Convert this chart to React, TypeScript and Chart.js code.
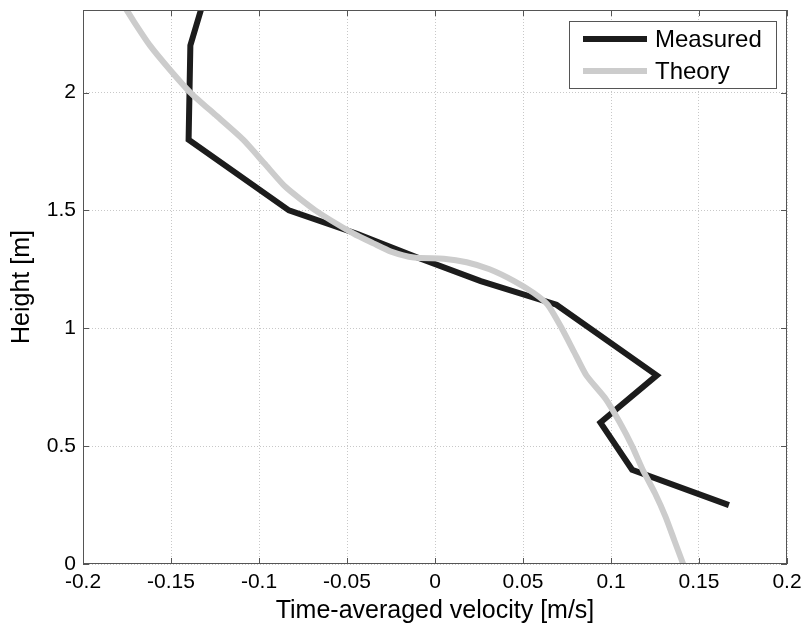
import React, { useEffect, useRef } from "react";
import { Chart, registerables } from "chart.js";

Chart.register(...registerables);

// ---- Data ----
const seriesNames = ["Measured", "Theory"];

const measuredHeight = [2.35, 2.2, 1.8, 1.5, 1.4, 1.3, 1.2, 1.1, 0.8, 0.6, 0.4, 0.25];
const measuredVelocity = [-0.133, -0.139, -0.14, -0.083, -0.044, -0.01, 0.026, 0.069, 0.126, 0.094, 0.112, 0.167];

const theoryHeight = [
  0, 0.1, 0.2, 0.3, 0.4, 0.5, 0.6, 0.7, 0.8, 0.9, 1.0, 1.1, 1.15, 1.2, 1.25, 1.28,
  1.295, 1.3, 1.325, 1.36, 1.4, 1.5, 1.6, 1.7, 1.8, 1.9, 2.0, 2.1, 2.2, 2.3, 2.36,
];
const theoryVelocity = [
  0.141, 0.136, 0.131, 0.125, 0.118, 0.112, 0.105, 0.097, 0.086, 0.079, 0.072, 0.064, 0.056,
  0.045, 0.031, 0.018, 0.005, -0.012, -0.025, -0.035, -0.046, -0.068, -0.085, -0.097, -0.109,
  -0.124, -0.139, -0.151, -0.162, -0.171, -0.176,
];

const xTicks = [-0.2, -0.15, -0.1, -0.05, 0, 0.05, 0.1, 0.15, 0.2];
const yTicks = [0, 0.5, 1, 1.5, 2];
const xTitle = "Time-averaged velocity [m/s]";
const yTitle = "Height [m]";

const FONT = '"Liberation Sans", Arial, Helvetica, sans-serif';
const MEASURED_COLOR = "#1c1c1c";
const THEORY_COLOR = "#cccccc";

const fmt = (v: number) => String(Number(v.toFixed(2)));

const framePlugin = {
  id: "frameAndLegend",
  afterDraw(chart: any) {
    const { ctx, chartArea: a, scales } = chart;
    ctx.save();
    // frame
    ctx.strokeStyle = "#555555";
    ctx.lineWidth = 1;
    ctx.strokeRect(a.left + 0.5, a.top + 0.5, a.right - a.left - 1, a.bottom - a.top - 1);
    // inward ticks
    const L = 6;
    ctx.beginPath();
    scales.x.ticks.forEach((t: any) => {
      const px = Math.round(scales.x.getPixelForValue(t.value)) + 0.5;
      ctx.moveTo(px, a.bottom);
      ctx.lineTo(px, a.bottom - L);
      ctx.moveTo(px, a.top);
      ctx.lineTo(px, a.top + L);
    });
    scales.y.ticks.forEach((t: any) => {
      const py = Math.round(scales.y.getPixelForValue(t.value)) + 0.5;
      ctx.moveTo(a.left, py);
      ctx.lineTo(a.left + L, py);
      ctx.moveTo(a.right, py);
      ctx.lineTo(a.right - L, py);
    });
    ctx.stroke();

    // legend
    const bw = 208;
    const bh = 68;
    const bx = a.right - 10 - bw;
    const by = a.top + 11;
    ctx.fillStyle = "#ffffff";
    ctx.fillRect(bx, by, bw, bh);
    ctx.strokeStyle = "#555555";
    ctx.lineWidth = 1;
    ctx.strokeRect(bx + 0.5, by + 0.5, bw - 1, bh - 1);
    const colors = [MEASURED_COLOR, THEORY_COLOR];
    ctx.font = `24px ${FONT}`;
    ctx.textBaseline = "middle";
    ctx.textAlign = "left";
    seriesNames.forEach((name, i) => {
      const cy = by + 18 + i * 32;
      ctx.strokeStyle = colors[i];
      ctx.lineWidth = 6;
      ctx.beginPath();
      ctx.moveTo(bx + 14, cy);
      ctx.lineTo(bx + 78, cy);
      ctx.stroke();
      ctx.fillStyle = "#000000";
      ctx.fillText(name, bx + 86, cy + 1);
    });
    ctx.restore();
  },
};

export default function App() {
  const ref = useRef<HTMLCanvasElement | null>(null);

  useEffect(() => {
    if (!ref.current) return;
    const chart = new Chart(ref.current, {
      type: "scatter",
      data: {
        datasets: [
          {
            label: seriesNames[0],
            data: measuredHeight.map((h, i) => ({ x: measuredVelocity[i], y: h })),
            showLine: true,
            borderColor: MEASURED_COLOR,
            backgroundColor: MEASURED_COLOR,
            borderWidth: 6,
            pointRadius: 0,
            tension: 0,
            order: 2,
          },
          {
            label: seriesNames[1],
            data: theoryHeight.map((h, i) => ({ x: theoryVelocity[i], y: h })),
            showLine: true,
            borderColor: THEORY_COLOR,
            backgroundColor: THEORY_COLOR,
            borderWidth: 6,
            pointRadius: 0,
            tension: 0.2,
            order: 1,
          },
        ],
      },
      options: {
        responsive: false,
        animation: false,
        devicePixelRatio: 1,
        layout: { padding: { left: 0, top: 10, right: 19, bottom: 0 } },
        plugins: {
          legend: { display: false },
          tooltip: { enabled: false },
        },
        scales: {
          x: {
            type: "linear",
            min: -0.2,
            max: 0.2,
            afterBuildTicks: (s: any) => {
              s.ticks = xTicks.map((v) => ({ value: v }));
            },
            afterFit: (s: any) => {
              s.height = 66;
              s.paddingLeft = 0;
              s.paddingRight = 0;
            },
            ticks: {
              autoSkip: false,
              maxRotation: 0,
              padding: 6,
              color: "#000",
              font: { family: FONT, size: 21 },
              callback: (v: any) => fmt(Number(v)),
            },
            grid: { color: "#c8c8c8", lineWidth: 1, drawTicks: false },
            border: { display: false, dash: [1, 2] },
            title: {
              display: true,
              text: xTitle,
              color: "#000",
              font: { family: FONT, size: 25 },
              padding: { top: 0, bottom: 4 },
            },
          },
          y: {
            type: "linear",
            min: 0,
            max: 2.35,
            afterBuildTicks: (s: any) => {
              s.ticks = yTicks.map((v) => ({ value: v }));
            },
            afterFit: (s: any) => {
              s.width = 83;
              s.paddingTop = 0;
              s.paddingBottom = 0;
            },
            ticks: {
              autoSkip: false,
              padding: 7,
              color: "#000",
              font: { family: FONT, size: 21 },
              callback: (v: any) => fmt(Number(v)),
            },
            grid: { color: "#c8c8c8", lineWidth: 1, drawTicks: false },
            border: { display: false, dash: [1, 2] },
            title: {
              display: true,
              text: yTitle,
              color: "#000",
              font: { family: FONT, size: 25 },
              padding: { top: 7, bottom: 0 },
            },
          },
        },
      },
      plugins: [framePlugin],
    });
    return () => chart.destroy();
  }, []);

  return (
    <div style={{ position: "fixed", left: 0, top: 0, width: 806, height: 630, background: "#fff" }}>
      <canvas ref={ref} width={806} height={630} style={{ display: "block" }} />
    </div>
  );
}
